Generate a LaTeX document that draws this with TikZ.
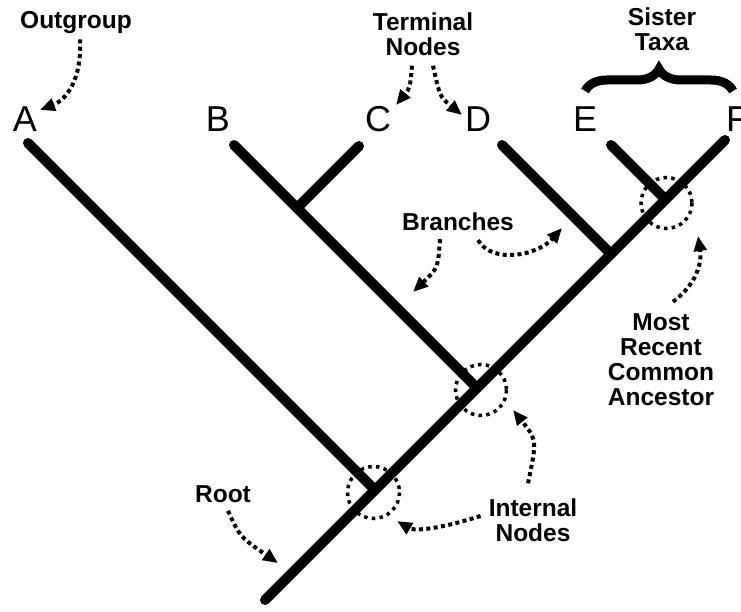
\documentclass[tikz,border=0pt]{standalone}
\usepackage{fontspec}
\setmainfont{Liberation Sans}
\usetikzlibrary{arrows.meta,decorations.pathreplacing}

\tikzset{
  branch/.style={line width=10pt, line cap=round},
  leaflabel/.style={font=\fontsize{36}{36}\selectfont, inner sep=0pt},
  note/.style={font=\fontsize{24.5}{25}\selectfont\bfseries, align=center, inner sep=0pt},
  pointer/.style={line width=4pt, dash pattern=on 4pt off 3.4pt,
    -{Triangle[length=15pt,width=12.5pt]}},
  ring/.style={line width=3.5pt, dash pattern=on 3.5pt off 4.3pt},
  bracket/.style={line width=9pt, decorate, decoration={brace, amplitude=22pt}}
}

\begin{document}
\begin{tikzpicture}[x=1pt, y=-1pt]
\useasboundingbox (0,0) rectangle (741,612);

% tips of the tree
\coordinate (tA) at (28,143);
\coordinate (tB) at (234,145);
\coordinate (tC) at (359,146);
\coordinate (tD) at (502,145);
\coordinate (tE) at (611,145);
\coordinate (tF) at (725,140);
\coordinate (root) at (265,600);

% internal junctions
\coordinate (jA) at (375,490);
\coordinate (jB) at (477,388);
\coordinate (jBC) at (297,208);
\coordinate (jD) at (611,254);
\coordinate (jE) at (665.5,199.5);

% branches
\draw[branch] (root) -- (tF);
\draw[branch] (tA) -- (jA);
\draw[branch] (tB) -- (jB);
\draw[branch] (tC) -- (jBC);
\draw[branch] (tD) -- (jD);
\draw[branch] (tE) -- (jE);

% taxon labels
\node[leaflabel] (lA) at (25,119) {A};
\node[leaflabel] (lB) at (218,119) {B};
\node[leaflabel] (lC) at (378,119) {C};
\node[leaflabel] (lD) at (478,119) {D};
\node[leaflabel] (lE) at (585,119) {E};
\node[leaflabel] (lF) at (737,119) {F};

% dotted rings round the highlighted nodes
\draw[ring] (373.5,492.5) circle[radius=26];
\draw[ring] (481,390) circle[radius=25.5];
\draw[ring] (666.5,203) circle[radius=25.5];

% sister taxa bracket
\draw[bracket] (585,91) -- (733,91);

% annotations
\node[note] (outgroup) at (76,23) {Outgroup};
\node[note] (terminal) at (423,34) {Terminal\\Nodes};
\node[note] (sister) at (662,29) {Sister\\Taxa};
\node[note] (branches) at (458,222) {Branches};
\node[note] (mrca) at (661,360) {Most\\Recent\\Common\\Ancestor};
\node[note] (internal) at (533,520) {Internal\\Nodes};
\node[note] (rootlbl) at (223,494) {Root};

% pointer ends
\coordinate (pOut) at (40,110);
\coordinate (pC) at (396,105);
\coordinate (pD) at (462,115);
\coordinate (pBr1) at (413,292);
\coordinate (pBr2) at (562,228);
\coordinate (pIn1) at (513,410);
\coordinate (pIn2) at (397,521);
\coordinate (pRoot) at (278,563);
\coordinate (pMrca) at (698,236);

% pointers
\draw[pointer] (outgroup.south) ++(4,5) .. controls (82,80) and (66,100) .. (pOut);
\draw[pointer] (terminal.south) ++(-11,10) .. controls (410,88) .. (pC);
\draw[pointer] (terminal.south) ++(10,10) .. controls (440,97) .. (pD);
\draw[pointer] (branches.south) ++(-18,8) .. controls (438,268) .. (pBr1);
\draw[pointer] (branches.south) ++(20,9) .. controls (492,264) and (537,256) .. (pBr2);
\draw[pointer] (internal.north) ++(-5,-15) .. controls (537,440) .. (pIn1);
\draw[pointer] (internal.west) ++(-8,-4) .. controls (430,532) and (412,530) .. (pIn2);
\draw[pointer] (rootlbl.south) ++(5,8) .. controls (240,537) .. (pRoot);
\draw[pointer] (mrca.north) ++(12,-12) .. controls (697,284) and (702,262) .. (pMrca);
\end{tikzpicture}
\end{document}
